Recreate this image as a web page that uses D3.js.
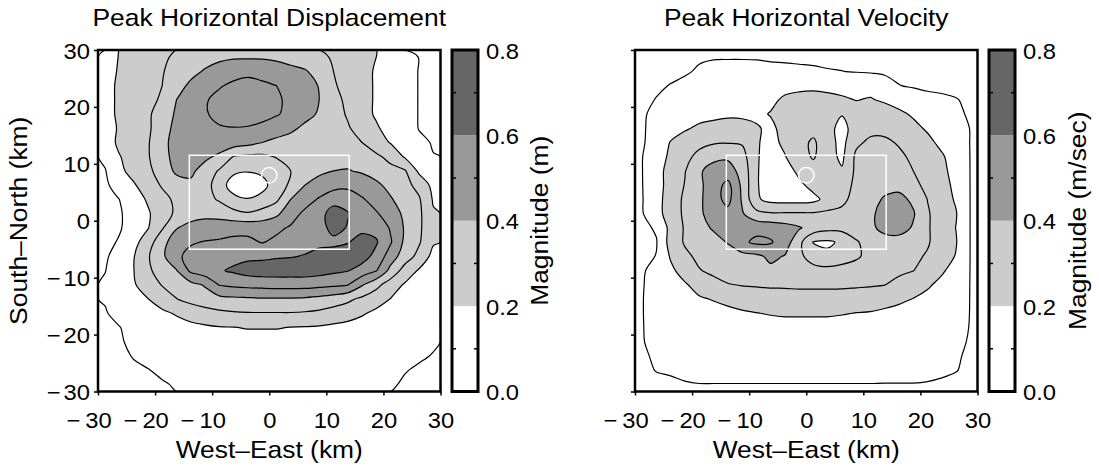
<!DOCTYPE html>
<html><head><meta charset="utf-8">
<script src="https://cdn.jsdelivr.net/npm/d3@7/dist/d3.min.js"></script>
<style>
body{margin:0;background:#fff;}
svg text{font-family:"Liberation Sans",Arial,Helvetica,sans-serif;fill:#000;}
</style></head><body>
<svg id="chart" width="1099" height="468"></svg>
<script>
// ---------- data ----------
const gridX = [-28.75,-26.25,-23.75,-21.25,-18.75,-16.25,-13.75,-11.25,-8.75,-6.25,-3.75,-1.25,1.25,3.75,6.25,8.75,11.25,13.75,16.25,18.75,21.25,23.75,26.25,28.75];
const gridY = [28.75,26.25,23.75,21.25,18.75,16.25,13.75,11.25,8.75,6.25,3.75,1.25,-1.25,-3.75,-6.25,-8.75,-11.25,-13.75,-16.25,-18.75,-21.25,-23.75,-26.25,-28.75];
// peak horizontal displacement (m), rows = gridY (north to south), cols = gridX
const displacement = [
[0.15,0.205,0.24,0.27,0.29,0.31,0.34,0.36,0.38,0.39,0.39,0.39,0.38,0.36,0.34,0.32,0.29,0.26,0.23,0.2,0.17,0.14,0.097,0.08],
[0.16,0.21,0.25,0.27,0.295,0.33,0.37,0.41,0.44,0.46,0.47,0.46,0.45,0.43,0.41,0.36,0.30,0.26,0.23,0.19,0.16,0.13,0.097,0.08],
[0.16,0.22,0.255,0.28,0.30,0.36,0.42,0.46,0.49,0.52,0.54,0.52,0.50,0.47,0.44,0.395,0.31,0.27,0.23,0.19,0.16,0.13,0.097,0.08],
[0.16,0.22,0.25,0.28,0.31,0.40,0.45,0.49,0.53,0.56,0.57,0.55,0.52,0.47,0.44,0.40,0.33,0.28,0.23,0.19,0.16,0.13,0.097,0.08],
[0.16,0.22,0.25,0.28,0.36,0.41,0.45,0.49,0.53,0.56,0.56,0.54,0.51,0.47,0.43,0.39,0.34,0.29,0.23,0.19,0.16,0.13,0.097,0.085],
[0.16,0.21,0.25,0.28,0.37,0.42,0.45,0.47,0.49,0.495,0.49,0.47,0.44,0.42,0.38,0.35,0.33,0.31,0.26,0.21,0.17,0.14,0.097,0.085],
[0.15,0.22,0.25,0.29,0.385,0.42,0.45,0.46,0.46,0.45,0.43,0.40,0.38,0.36,0.34,0.33,0.33,0.32,0.30,0.24,0.195,0.16,0.115,0.095],
[0.12,0.195,0.24,0.29,0.38,0.42,0.44,0.42,0.38,0.295,0.28,0.28,0.305,0.32,0.34,0.36,0.37,0.37,0.35,0.32,0.27,0.19,0.14,0.102],
[0.095,0.18,0.23,0.28,0.34,0.42,0.42,0.36,0.29,0.22,0.205,0.215,0.25,0.30,0.35,0.38,0.40,0.405,0.39,0.36,0.33,0.31,0.18,0.13],
[0.08,0.15,0.19,0.25,0.31,0.35,0.38,0.34,0.25,0.15,0.14,0.175,0.24,0.32,0.40,0.44,0.46,0.47,0.45,0.42,0.37,0.33,0.27,0.17],
[0.06,0.10,0.16,0.21,0.27,0.32,0.34,0.33,0.29,0.23,0.205,0.225,0.28,0.40,0.46,0.51,0.57,0.57,0.51,0.46,0.41,0.35,0.31,0.19],
[0.05,0.09,0.14,0.19,0.25,0.32,0.36,0.37,0.36,0.33,0.31,0.34,0.38,0.46,0.52,0.57,0.635,0.605,0.55,0.51,0.45,0.38,0.32,0.21],
[0.05,0.09,0.15,0.195,0.29,0.395,0.43,0.45,0.46,0.47,0.47,0.46,0.48,0.51,0.54,0.57,0.625,0.595,0.58,0.57,0.49,0.39,0.32,0.21],
[0.07,0.11,0.17,0.25,0.37,0.45,0.49,0.505,0.51,0.52,0.52,0.495,0.52,0.55,0.57,0.585,0.58,0.595,0.63,0.61,0.51,0.38,0.31,0.21],
[0.09,0.13,0.195,0.29,0.38,0.48,0.53,0.55,0.56,0.57,0.58,0.58,0.59,0.595,0.605,0.62,0.64,0.65,0.64,0.57,0.45,0.35,0.27,0.17],
[0.098,0.14,0.198,0.28,0.35,0.395,0.52,0.56,0.59,0.615,0.64,0.65,0.65,0.65,0.65,0.64,0.62,0.605,0.56,0.505,0.37,0.26,0.19,0.14],
[0.11,0.15,0.19,0.25,0.305,0.34,0.37,0.41,0.505,0.52,0.53,0.535,0.54,0.54,0.54,0.53,0.52,0.505,0.41,0.33,0.25,0.19,0.15,0.12],
[0.105,0.14,0.17,0.198,0.25,0.298,0.33,0.35,0.37,0.38,0.385,0.39,0.39,0.39,0.385,0.37,0.35,0.32,0.28,0.24,0.198,0.16,0.13,0.11],
[0.095,0.12,0.14,0.16,0.18,0.21,0.24,0.265,0.28,0.29,0.295,0.295,0.295,0.295,0.29,0.28,0.26,0.24,0.21,0.18,0.16,0.14,0.12,0.11],
[0.08,0.098,0.12,0.13,0.145,0.16,0.175,0.185,0.195,0.198,0.205,0.205,0.205,0.198,0.195,0.19,0.18,0.17,0.16,0.15,0.14,0.13,0.12,0.11],
[0.07,0.095,0.11,0.12,0.13,0.14,0.15,0.155,0.16,0.16,0.16,0.16,0.16,0.16,0.155,0.15,0.145,0.14,0.13,0.125,0.12,0.115,0.11,0.105],
[0.06,0.08,0.105,0.115,0.12,0.13,0.135,0.14,0.14,0.14,0.14,0.14,0.14,0.14,0.135,0.13,0.125,0.12,0.115,0.115,0.11,0.11,0.105,0.098],
[0.05,0.065,0.085,0.098,0.11,0.115,0.12,0.125,0.125,0.125,0.125,0.125,0.125,0.12,0.12,0.115,0.115,0.11,0.11,0.105,0.105,0.102,0.095,0.08],
[0.04,0.05,0.065,0.08,0.095,0.105,0.11,0.115,0.115,0.115,0.115,0.115,0.115,0.115,0.115,0.115,0.11,0.11,0.11,0.105,0.105,0.095,0.08,0.07]
];
// peak horizontal velocity (m/sec)
const velocity = [
[0.05,0.055,0.06,0.07,0.09,0.095,0.095,0.095,0.095,0.09,0.09,0.085,0.085,0.08,0.08,0.075,0.07,0.07,0.065,0.06,0.06,0.055,0.05,0.05],
[0.05,0.06,0.07,0.09,0.11,0.12,0.125,0.125,0.12,0.12,0.115,0.115,0.11,0.105,0.101,0.095,0.09,0.085,0.08,0.075,0.07,0.065,0.06,0.055],
[0.055,0.08,0.105,0.12,0.13,0.135,0.14,0.14,0.14,0.15,0.17,0.18,0.185,0.18,0.175,0.175,0.175,0.14,0.102,0.09,0.08,0.075,0.07,0.06],
[0.07,0.105,0.13,0.14,0.15,0.16,0.165,0.165,0.16,0.18,0.215,0.225,0.225,0.22,0.21,0.198,0.205,0.19,0.17,0.15,0.13,0.12,0.105,0.08],
[0.09,0.12,0.14,0.16,0.17,0.18,0.19,0.19,0.18,0.205,0.23,0.245,0.25,0.23,0.205,0.23,0.24,0.235,0.215,0.19,0.16,0.14,0.115,0.09],
[0.09,0.13,0.16,0.19,0.215,0.225,0.225,0.22,0.21,0.18,0.23,0.26,0.27,0.23,0.17,0.24,0.27,0.27,0.25,0.22,0.19,0.16,0.13,0.098],
[0.09,0.14,0.205,0.24,0.27,0.29,0.295,0.29,0.21,0.17,0.22,0.27,0.315,0.24,0.17,0.28,0.32,0.32,0.29,0.26,0.22,0.18,0.14,0.098],
[0.098,0.15,0.22,0.27,0.33,0.38,0.385,0.34,0.21,0.16,0.195,0.26,0.31,0.24,0.18,0.32,0.35,0.35,0.32,0.28,0.24,0.21,0.16,0.098],
[0.098,0.17,0.23,0.295,0.39,0.43,0.44,0.37,0.21,0.15,0.16,0.22,0.26,0.21,0.21,0.32,0.36,0.37,0.34,0.30,0.25,0.22,0.17,0.098],
[0.097,0.17,0.23,0.305,0.38,0.45,0.53,0.38,0.21,0.15,0.14,0.18,0.23,0.25,0.28,0.31,0.34,0.37,0.37,0.33,0.27,0.23,0.18,0.098],
[0.095,0.17,0.24,0.32,0.38,0.46,0.53,0.39,0.215,0.17,0.165,0.165,0.175,0.23,0.28,0.33,0.37,0.41,0.43,0.38,0.298,0.24,0.19,0.098],
[0.093,0.17,0.24,0.32,0.38,0.45,0.47,0.41,0.33,0.31,0.31,0.31,0.31,0.32,0.32,0.34,0.38,0.44,0.45,0.41,0.31,0.25,0.205,0.098],
[0.08,0.11,0.23,0.31,0.37,0.41,0.45,0.47,0.47,0.46,0.44,0.41,0.36,0.33,0.33,0.35,0.38,0.43,0.44,0.39,0.31,0.25,0.198,0.098],
[0.07,0.095,0.24,0.31,0.35,0.37,0.405,0.48,0.52,0.51,0.45,0.33,0.195,0.185,0.215,0.29,0.34,0.36,0.36,0.34,0.31,0.25,0.205,0.098],
[0.075,0.103,0.21,0.28,0.32,0.34,0.36,0.37,0.38,0.42,0.395,0.32,0.26,0.22,0.26,0.29,0.32,0.34,0.34,0.32,0.29,0.24,0.195,0.098],
[0.09,0.13,0.18,0.24,0.295,0.32,0.34,0.35,0.36,0.38,0.36,0.34,0.33,0.33,0.33,0.33,0.33,0.33,0.32,0.302,0.26,0.21,0.17,0.098],
[0.095,0.13,0.16,0.19,0.235,0.27,0.295,0.305,0.31,0.315,0.315,0.32,0.32,0.32,0.32,0.315,0.31,0.302,0.27,0.24,0.21,0.18,0.15,0.098],
[0.097,0.13,0.15,0.17,0.19,0.205,0.22,0.235,0.245,0.25,0.255,0.255,0.255,0.255,0.25,0.245,0.24,0.23,0.215,0.198,0.18,0.16,0.14,0.098],
[0.098,0.12,0.14,0.15,0.16,0.17,0.18,0.19,0.198,0.205,0.21,0.21,0.21,0.21,0.205,0.198,0.195,0.185,0.175,0.16,0.15,0.14,0.13,0.098],
[0.098,0.115,0.125,0.135,0.14,0.15,0.155,0.16,0.165,0.17,0.17,0.17,0.17,0.17,0.165,0.16,0.155,0.15,0.145,0.14,0.13,0.125,0.115,0.098],
[0.098,0.11,0.115,0.12,0.125,0.13,0.135,0.14,0.14,0.14,0.14,0.14,0.14,0.14,0.14,0.135,0.13,0.13,0.125,0.12,0.115,0.11,0.105,0.098],
[0.095,0.105,0.11,0.115,0.12,0.12,0.125,0.125,0.125,0.125,0.125,0.125,0.125,0.125,0.125,0.125,0.12,0.12,0.115,0.115,0.11,0.105,0.102,0.097],
[0.07,0.105,0.11,0.11,0.115,0.115,0.115,0.115,0.115,0.115,0.115,0.115,0.115,0.115,0.115,0.115,0.115,0.11,0.11,0.11,0.108,0.106,0.104,0.075],
[0.05,0.065,0.085,0.097,0.099,0.099,0.099,0.099,0.099,0.099,0.099,0.099,0.099,0.099,0.099,0.099,0.099,0.099,0.099,0.099,0.098,0.095,0.075,0.055]
];
const fillLevels = [0.2, 0.4, 0.6];
const fillColors = ["#cccccc", "#999999", "#666666"];
const lineLevels = [0.1, 0.2, 0.3, 0.4, 0.5, 0.6, 0.7];
const axisTicks = [-30, -20, -10, 0, 10, 20, 30];
const colorbarTicks = [0.0, 0.2, 0.4, 0.6, 0.8];
const colorbarMinor = [0.1, 0.3, 0.5, 0.7];
const faultX = [-14, 14];
const faultY = [-5, 11.5];
const epicenter = [0, 8];
const epicenterRadiusKm = 1.35;
const titles = ["Peak Horizontal Displacement", "Peak Horizontal Velocity"];
const units = ["Magnitude (m)", "Magnitude (m/sec)"];
const xTitle = "West\u2013East (km)";
const yTitle = "South\u2013North (km)";

// ---------- drawing ----------
const KT = 1.1, FT = 24;     // titles / axis labels: horizontal stretch, size
const KN = 1.08, FN = 22;    // tick numbers
const svg = d3.select("#chart");
svg.append("rect").attr("width",1099).attr("height",468).attr("fill","#fff");

function label(parent, x, y, str, anchor, rot){
  const g = parent.append("g").attr("transform", `translate(${x},${y})` + (rot ? ` rotate(${rot})` : "") + ` scale(${KT},1)`);
  return g.append("text").attr("text-anchor", anchor || "middle").attr("font-size", FT).text(str);
}

const layouts = [
  {left: 98,  cbLeft: 452, yLabels: true,  unitX: 548},
  {left: 635, cbLeft: 989, yLabels: false, unitX: 1086}
];
const TOP = 50, BOTTOM = 391.5, SIZE = 342.5, CBW = 26;

[displacement, velocity].forEach((values, pi) => {
  const L = layouts[pi];
  const x = d3.scaleLinear().domain([-30, 30]).range([L.left, L.left + SIZE]);
  const y = d3.scaleLinear().domain([-30, 30]).range([BOTTOM, TOP]);
  const n = gridX.length, m = gridY.length;
  const stepX = gridX[1] - gridX[0], stepY = gridY[0] - gridY[1];
  const gxKm = d3.scaleLinear().domain([0, n]).range([gridX[0] - stepX/2, gridX[n-1] + stepX/2]);
  const gyKm = d3.scaleLinear().domain([0, m]).range([gridY[0] + stepY/2, gridY[m-1] - stepY/2]);
  const ring = d3.line().x(d => x(gxKm(d[0]))).y(d => y(gyKm(d[1]))).curve(d3.curveCatmullRomClosed.alpha(0.5));
  const gen = d3.contours().size([n, m]).smooth(true);
  const flat = values.flat();
  const pathOf = mp => mp.coordinates.map(poly => poly.map(r => ring(r.slice(0, -1))).join("")).join("");

  const clipId = "clip" + pi;
  svg.append("clipPath").attr("id", clipId).append("rect")
    .attr("x", x(-30)).attr("y", y(30)).attr("width", x(30) - x(-30)).attr("height", y(-30) - y(30));
  const plot = svg.append("g").attr("clip-path", `url(#${clipId})`);
  plot.append("rect").attr("x", x(-30)).attr("y", y(30)).attr("width", x(30) - x(-30)).attr("height", y(-30) - y(30)).attr("fill", "#fff");

  fillLevels.forEach((t, i) => {
    plot.append("path").attr("d", pathOf(gen.contour(flat, t))).attr("fill", fillColors[i]).attr("fill-rule", "evenodd");
  });
  lineLevels.forEach(t => {
    plot.append("path").attr("d", pathOf(gen.contour(flat, t))).attr("fill", "none").attr("stroke", "#000").attr("stroke-width", 1.2).attr("stroke-linejoin", "round");
  });
  // fault outline and epicentre
  plot.append("rect").attr("x", x(faultX[0])).attr("y", y(faultY[1]))
    .attr("width", x(faultX[1]) - x(faultX[0])).attr("height", y(faultY[0]) - y(faultY[1]))
    .attr("fill", "none").attr("stroke", "#fff").attr("stroke-width", 1.5);
  plot.append("circle").attr("cx", x(epicenter[0])).attr("cy", y(epicenter[1]))
    .attr("r", x(epicenterRadiusKm) - x(0)).attr("fill", "none").attr("stroke", "#fff").attr("stroke-width", 1.5);

  // axes
  const ax = svg.append("g").attr("transform", `translate(0,${BOTTOM})`)
    .call(d3.axisBottom(x).tickValues(axisTicks).tickSize(4).tickFormat(d => String(Math.abs(d))));
  ax.select(".domain").remove();
  ax.selectAll("line").attr("stroke-width", 1.5);
  ax.selectAll(".tick").each(function(d){
    const t = d3.select(this).select("text").attr("y", 36.5).attr("dy", null).attr("transform", `scale(${KN},1)`).attr("font-size", FN).attr("font-family", null);
    if (d < 0) {
      const w = t.node().getComputedTextLength() * KN;
      d3.select(this).append("text").attr("text-anchor", "end").attr("fill", "#000").attr("font-size", FN)
        .attr("x", (-w/2 - 5)/KN).attr("y", 36.5).attr("transform", `scale(${KN},1)`).text("\u2212");
    }
  });
  const ay = svg.append("g").attr("transform", `translate(${L.left},0)`)
    .call(d3.axisLeft(y).tickValues(axisTicks).tickSize(4).tickFormat(d => L.yLabels ? String(Math.abs(d)) : ""));
  ay.select(".domain").remove();
  ay.selectAll("line").attr("stroke-width", 1.5);
  ay.selectAll(".tick").each(function(d){
    const t = d3.select(this).select("text").attr("x", -8/KN).attr("y", 8).attr("dy", null).attr("transform", `scale(${KN},1)`).attr("font-size", FN).attr("font-family", null);
    if (L.yLabels && d < 0) {
      const w = t.node().getComputedTextLength() * KN;
      d3.select(this).append("text").attr("text-anchor", "end").attr("fill", "#000").attr("font-size", FN)
        .attr("x", (-8 - w - 3)/KN).attr("y", 8).attr("transform", `scale(${KN},1)`).text("\u2212");
    }
  });
  // frame
  svg.append("rect").attr("x", x(-30)).attr("y", y(30)).attr("width", x(30) - x(-30)).attr("height", y(-30) - y(30))
    .attr("fill", "none").attr("stroke", "#000").attr("stroke-width", 2.5);

  // titles
  label(svg, (x(-30) + x(30))/2, 26, titles[pi], "middle");
  label(svg, (x(-30) + x(30))/2, 458, xTitle, "middle");
  if (L.yLabels) label(svg, 27, (TOP + BOTTOM)/2, yTitle, "middle", -90);

  // colour bar
  const c = d3.scaleLinear().domain([0, 0.8]).range([BOTTOM, TOP]);
  const bands = [0].concat(fillLevels);
  const bandColors = ["#ffffff"].concat(fillColors);
  bands.forEach((b, i) => {
    const b1 = i < bands.length - 1 ? bands[i+1] : 0.8;
    svg.append("rect").attr("x", L.cbLeft).attr("y", c(b1)).attr("width", CBW).attr("height", c(b) - c(b1)).attr("fill", bandColors[i]);
  });
  colorbarMinor.forEach(v => {
    svg.append("line").attr("x1", L.cbLeft).attr("x2", L.cbLeft + 4).attr("y1", c(v)).attr("y2", c(v)).attr("stroke", "#000").attr("stroke-width", 1.5);
    svg.append("line").attr("x1", L.cbLeft + CBW - 4).attr("x2", L.cbLeft + CBW).attr("y1", c(v)).attr("y2", c(v)).attr("stroke", "#000").attr("stroke-width", 1.5);
  });
  svg.append("rect").attr("x", L.cbLeft).attr("y", TOP).attr("width", CBW).attr("height", BOTTOM - TOP)
    .attr("fill", "none").attr("stroke", "#000").attr("stroke-width", 3);
  const ac = svg.append("g").attr("transform", `translate(${L.cbLeft + CBW},0)`)
    .call(d3.axisRight(c).tickValues(colorbarTicks).tickSize(0).tickFormat(d3.format(".1f")));
  ac.select(".domain").remove();
  ac.selectAll("text").attr("x", 8/KN).attr("y", 8).attr("dy", null).attr("transform", `scale(${KN},1)`).attr("font-size", FN).attr("font-family", null);
  label(svg, L.unitX, (TOP + BOTTOM)/2, units[pi], "middle", -90);
});
</script>
</body></html>
